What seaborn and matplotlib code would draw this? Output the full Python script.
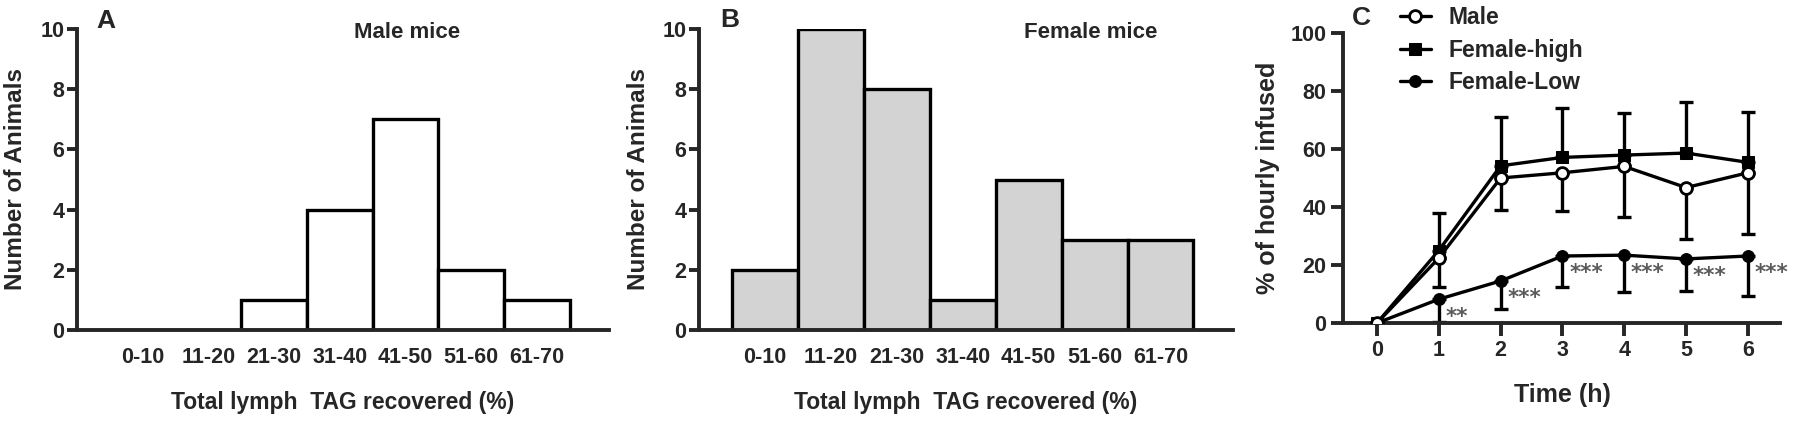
import numpy as np
import pandas as pd
import matplotlib
matplotlib.use("Agg")
import matplotlib.pyplot as plt
import seaborn as sns

# ---------------- data ----------------
bins = ["0-10", "11-20", "21-30", "31-40", "41-50", "51-60", "61-70"]
male_counts = [0, 0, 1, 4, 7, 2, 1]
female_counts = [2, 10, 8, 1, 5, 3, 3]

time_h = [0, 1, 2, 3, 4, 5, 6]
male_mean = [0, 22.4, 50.0, 51.8, 54.0, 46.7, 51.8]
male_err_low = [0, 10.0, 11.0, 13.1, 17.6, 17.9, 21.0]
fhigh_mean = [0, 25.0, 54.2, 57.1, 57.9, 58.6, 55.4]
fhigh_err_up = [0, 12.8, 17.0, 16.9, 14.5, 17.7, 17.2]
flow_mean = [0, 8.2, 14.5, 23.1, 23.4, 22.1, 23.1]
flow_err_low = [0, 7.7, 9.7, 10.6, 12.6, 11.1, 13.8]
sig_labels = ["", "**", "***", "***", "***", "***", "***"]

# ---------------- style ----------------
sns.set_style("ticks")
plt.rcParams["font.family"] = ["Liberation Sans", "DejaVu Sans"]
plt.rcParams["font.weight"] = "bold"
plt.rcParams["axes.labelweight"] = "bold"

W, H = 1800, 424
fig = plt.figure(figsize=(W / 100, H / 100), dpi=100)

def px_axes(l, r, t, b):
    return fig.add_axes([l / W, 1 - b / H, (r - l) / W, (b - t) / H])

SPINE = 2.8
TICKFS = 15.5

def style_hist(ax):
    sns.despine(ax=ax)
    for s in ("left", "bottom"):
        ax.spines[s].set_linewidth(SPINE)
    ax.set_xlim(-1, 7.1)
    ax.set_ylim(0, 10)
    ax.set_yticks([0, 2, 4, 6, 8, 10])
    ax.tick_params(axis="y", direction="out", length=7, width=SPINE,
                   labelsize=TICKFS, pad=2)
    ax.tick_params(axis="x", length=0, labelsize=TICKFS, pad=12)
    for t in ax.get_xticklabels() + ax.get_yticklabels():
        t.set_fontweight("bold")
    ax.set_ylabel("Number of Animals", fontsize=17.5, fontweight="bold")
    ax.set_xlabel("Total lymph  TAG recovered (%)", fontsize=16.5, fontweight="bold")
    ax.xaxis.label.set_va("center")
    ax.yaxis.label.set_va("center")

# ---------------- Panel A ----------------
axA = px_axes(77, 609, 29, 330)
dfA = pd.DataFrame({"bin": bins, "count": male_counts})
sns.barplot(data=dfA, x="bin", y="count", order=bins, ax=axA, color="white",
            edgecolor="black", linewidth=2.4, width=1.0, saturation=1)
style_hist(axA)
axA.xaxis.set_label_coords(0.5, -0.2425)
axA.yaxis.set_label_coords(-0.1165, 0.5)
axA.text(0.62, 0.99, "Male mice", transform=axA.transAxes, ha="center", va="center",
         fontsize=16, fontweight="bold")

# ---------------- Panel B ----------------
axB = px_axes(699, 1233, 29, 330)
dfB = pd.DataFrame({"bin": bins, "count": female_counts})
sns.barplot(data=dfB, x="bin", y="count", order=bins, ax=axB, color="#d3d3d3",
            edgecolor="black", linewidth=2.4, width=1.0, saturation=1)
style_hist(axB)
axB.xaxis.set_label_coords(0.5, -0.2425)
axB.yaxis.set_label_coords(-0.114, 0.5)
axB.text(0.734, 0.99, "Female mice", transform=axB.transAxes, ha="center", va="center",
         fontsize=16, fontweight="bold")

# ---------------- Panel C ----------------
axC = px_axes(1343, 1780, 33, 323)
sns.despine(ax=axC)
for s in ("left", "bottom"):
    axC.spines[s].set_linewidth(SPINE)

LW = 2.4
zeros = np.zeros(len(time_h))
axC.errorbar(time_h, fhigh_mean, yerr=[zeros, fhigh_err_up], fmt="none", ecolor="black",
             elinewidth=LW, capsize=5, capthick=LW, zorder=2)
axC.errorbar(time_h, male_mean, yerr=[male_err_low, zeros], fmt="none", ecolor="black",
             elinewidth=LW, capsize=5, capthick=LW, zorder=2)
axC.errorbar(time_h, flow_mean, yerr=[flow_err_low, zeros], fmt="none", ecolor="black",
             elinewidth=LW, capsize=5, capthick=LW, zorder=2)

sns.lineplot(x=time_h, y=fhigh_mean, ax=axC, color="black", linewidth=LW, marker="s",
             markersize=8, markerfacecolor="black", markeredgecolor="black",
             label="Female-high", zorder=3)
sns.lineplot(x=time_h, y=flow_mean, ax=axC, color="black", linewidth=LW, marker="o",
             markersize=8.5, markerfacecolor="black", markeredgecolor="black",
             label="Female-Low", zorder=3)
sns.lineplot(x=time_h, y=male_mean, ax=axC, color="black", linewidth=LW, marker="o",
             markersize=8.5, markerfacecolor="white", markeredgecolor="black",
             markeredgewidth=2, label="Male", zorder=4)

for t, m, s in zip(time_h, flow_mean, sig_labels):
    if s:
        axC.text(t + 0.11, m - 6.0, s, ha="left", va="center", fontsize=15.5,
                 color="#5a5a5a", family="DejaVu Sans", fontweight="bold")

axC.set_xlim(-0.55, 6.52)
axC.set_ylim(0, 100)
axC.set_xticks(time_h)
axC.set_yticks([0, 20, 40, 60, 80, 100])
axC.tick_params(axis="both", direction="out", length=9, width=SPINE,
                labelsize=15.5, pad=3)
for t in axC.get_xticklabels() + axC.get_yticklabels():
    t.set_fontweight("bold")
axC.set_xlabel("Time (h)", fontsize=18, fontweight="bold")
axC.set_ylabel("% of hourly infused", fontsize=18, fontweight="bold")
axC.xaxis.label.set_va("center")
axC.yaxis.label.set_va("center")
axC.xaxis.set_label_coords(0.503, -0.248)
axC.yaxis.set_label_coords(-0.1716, 0.5)

handles, labels = axC.get_legend_handles_labels()
order = [labels.index(n) for n in ["Male", "Female-high", "Female-Low"]]
axC.legend([handles[i] for i in order], [labels[i] for i in order],
           loc="upper left", bbox_to_anchor=(1400 / W, 1 - 6 / H),
           bbox_transform=fig.transFigure, frameon=False,
           handlelength=1.35, handletextpad=0.75, labelspacing=0.42,
           borderpad=0, borderaxespad=0, prop={"weight": "bold", "size": 16.5})

# panel letters
fig.text(106 / W, 1 - 21 / H, "A", ha="center", va="center", fontsize=19, fontweight="bold")
fig.text(730 / W, 1 - 20 / H, "B", ha="center", va="center", fontsize=19, fontweight="bold")
fig.text(1361 / W, 1 - 18 / H, "C", ha="center", va="center", fontsize=19, fontweight="bold")

fig.savefig("out.png", dpi=100)
